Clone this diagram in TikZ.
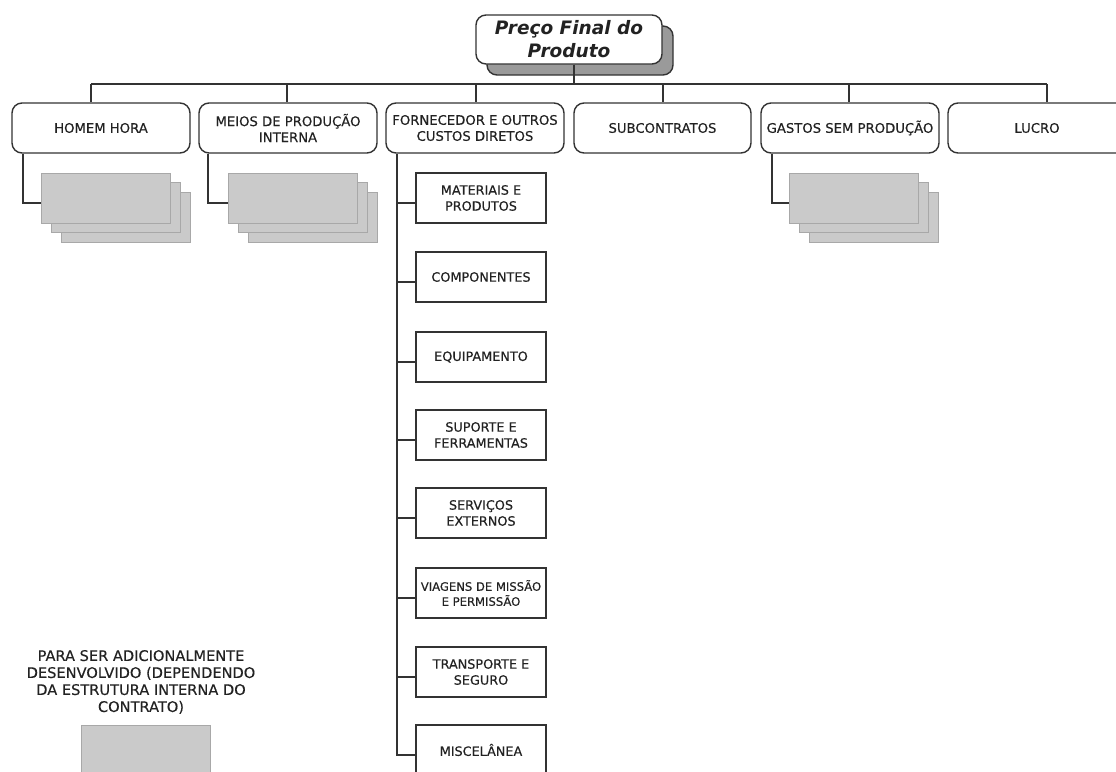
\documentclass[tikz,border=0pt]{standalone}
\usepackage{fontspec}
\setmainfont{DejaVu Sans}[FakeBold=0.35]
\newfontfamily\tfont{DejaVu Sans}
\usetikzlibrary{calc}
\definecolor{ln}{HTML}{333333}
\definecolor{txt}{HTML}{222222}
\definecolor{stackfill}{HTML}{CACACA}
\definecolor{stackdraw}{HTML}{A8A8A8}
\definecolor{shadowfill}{HTML}{9A9A9A}
\tikzset{
  lvlone/.style={draw=ln, line width=1.4pt, rounded corners=10pt, fill=white,
    minimum width=178pt, minimum height=50pt, inner sep=2pt, align=center,
    text=txt, font=\fontsize{13.2}{16}\selectfont},
  childbox/.style={draw=ln, line width=1.2pt, fill=white,
    minimum width=130pt, minimum height=50pt, inner sep=1pt, align=center,
    text=txt, font=\fontsize{12.8}{16}\selectfont},
  stackbox/.style={draw=stackdraw, line width=0.8pt, fill=stackfill,
    minimum width=129pt, minimum height=50pt, inner sep=0pt},
  conn/.style={draw=ln, line width=1.2pt},
}
\begin{document}
\begin{tikzpicture}[x=1pt,y=-1pt]
\useasboundingbox (0,0) rectangle (1116,771);
\clip (0,0) rectangle (1116,771);

% top node with shadow
\node[draw=ln, line width=1.4pt, rounded corners=10pt, fill=shadowfill,
  minimum width=186pt, minimum height=49pt] (topsh) at (580,50.5) {};
\node[draw=ln, line width=1.4pt, rounded corners=10pt, fill=white,
  minimum width=186pt, minimum height=49pt, align=center, text=txt,
  font=\tfont\fontsize{18.5}{23}\selectfont\bfseries\itshape] (top) at (569,39.5)
  {Preço Final do\\Produto};

% level one
\node[lvlone] (hh) at (101,128) {HOMEM HORA};
\node[lvlone] (mp) at (288,128) {MEIOS DE PRODUÇÃO\\INTERNA};
\node[lvlone] (fo) at (475,128) {FORNECEDOR E OUTROS\\CUSTOS DIRETOS};
\node[lvlone, minimum width=177pt] (sc) at (662.5,128) {SUBCONTRATOS};
\node[lvlone] (gs) at (850,128) {GASTOS SEM PRODUÇÃO};
\node[lvlone] (lu) at (1037,128) {LUCRO};

% bus
\coordinate (bustop) at (574,84);
\coordinate (busl) at (91,84);
\coordinate (busr) at (1047,84);
\draw[conn] (574,0 |- top.south) -- (bustop);
\draw[conn] (busl) -- (busr);
\draw[conn] (busl) -- (91,0 |- hh.north);
\draw[conn] (287,84) -- (287,0 |- mp.north);
\draw[conn] (476,84) -- (476,0 |- fo.north);
\draw[conn] (663,84) -- (663,0 |- sc.north);
\draw[conn] (849,84) -- (849,0 |- gs.north);
\draw[conn] (busr) -- (1047,0 |- lu.north);

% stacks
\foreach \nm/\x/\cx in {hh/105.5/23, mp/293/208, gs/854/772}{
  \node[stackbox] at (\x+20,217.5) {};
  \node[stackbox] at (\x+10,207.5) {};
  \node[stackbox] (\nm1) at (\x,198) {};
  \draw[conn] (\cx,0 |- \nm.south) |- ($(\nm1.west)+(0,5)$);
}

% fornecedor children
\node[childbox] (c1) at (481,198) {MATERIAIS E\\PRODUTOS};
\node[childbox] (c2) at (481,277) {COMPONENTES};
\node[childbox] (c3) at (481,357) {EQUIPAMENTO};
\node[childbox] (c4) at (481,435) {SUPORTE E\\FERRAMENTAS};
\node[childbox] (c5) at (481,513) {SERVIÇOS\\EXTERNOS};
\node[childbox, font=\fontsize{11.6}{15}\selectfont] (c6) at (481,593) {VIAGENS DE MISSÃO\\E PERMISSÃO};
\node[childbox] (c7) at (481,672) {TRANSPORTE E\\SEGURO};
\node[childbox] (c8) at (481,750) {MISCELÂNEA};

\draw[conn] (397,0 |- fo.south) -- (397,756);
\foreach \c in {c1,c2,c3,c4,c5,c6,c7,c8}{
  \draw[conn] ($(\c.west)+(0,5)$) -- ++(-19,0);
}

% legend
\node[align=center, text=txt, font=\fontsize{14.6}{17}\selectfont] (leg) at (141,682)
  {PARA SER ADICIONALMENTE\\DESENVOLVIDO (DEPENDENDO\\DA ESTRUTURA INTERNA DO\\CONTRATO)};
\node[stackbox] (legbox) at (145.5,750) {};
\end{tikzpicture}
\end{document}
